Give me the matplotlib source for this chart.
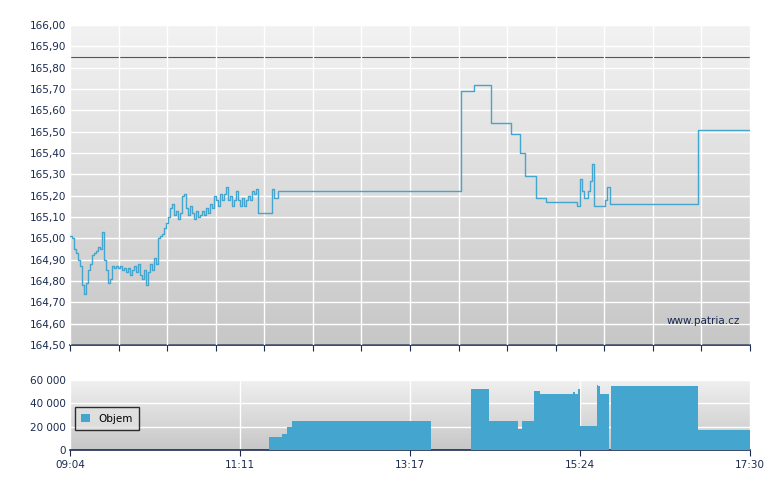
import matplotlib.pyplot as plt
import numpy as np
from matplotlib.ticker import FuncFormatter

# session 09:04 -> 17:30, 506 minutes; readings below are in minutes after 09:04
SESSION = 506
ref_price = 165.85

price_t = [0, 1.5, 3, 4.5, 6, 7.4, 9, 10.4, 12, 13.4, 14.9, 16.4, 17.9, 19.3, 20.8, 22.3, 23.8, 25.3,
           26.8, 28.3, 29.8, 31.3, 32.7, 34.2, 35.7, 37.2, 38.7, 40.2, 41.7, 43.2, 44.6, 46.1, 47.6,
           49.1, 50.6, 52.1, 53.6, 55.1, 56.5, 58, 59.5, 61, 62.5, 64, 65.5, 67, 68.5, 69.9, 71.4,
           72.9, 74.4, 75.9, 77.4, 78.9, 80.4, 81.8, 83.3, 84.8, 86.3, 87.8, 89.3, 90.8, 92.3, 93.7,
           95.2, 96.7, 98.2, 99.7, 101.2, 102.7, 104.2, 105.6, 107.1, 108.6, 110.1, 111.6, 113.1,
           114.6, 116.1, 117.5, 119, 120.5, 122, 123.5, 125, 126.5, 128, 129.4, 130.9, 132.4, 133.9,
           135.4, 136.9, 138.4, 139.9, 148.8, 150.3, 151.8, 153.3, 154.8, 290.2, 291, 299.9, 300.6,
           312.5, 313.3, 327.4, 328.1, 334, 334.8, 337.8, 338.5, 345.9, 346.7, 353.4, 354.1, 375.7,
           377.2, 379.4, 380.9, 382.4, 385.4, 386.9, 388.4, 389.8, 396.5, 398, 399.5, 401, 401.7,
           466.5, 467.2, 506]
price_v = [165.01, 165.00, 164.95, 164.93, 164.90, 164.87, 164.78, 164.74, 164.79, 164.85, 164.88,
           164.92, 164.93, 164.94, 164.96, 164.95, 165.03, 164.90, 164.85, 164.79, 164.81, 164.87,
           164.86, 164.87, 164.86, 164.87, 164.85, 164.86, 164.84, 164.86, 164.83,
           164.85, 164.87, 164.84, 164.88, 164.83, 164.81, 164.85, 164.78, 164.84, 164.88, 164.85,
           164.91, 164.88, 165.00, 165.01, 165.02, 165.05, 165.07, 165.10, 165.14, 165.16, 165.11,
           165.13, 165.09, 165.12, 165.20, 165.21, 165.14, 165.11, 165.15, 165.12, 165.09, 165.13,
           165.10, 165.11, 165.13, 165.11, 165.14, 165.12, 165.16, 165.14, 165.20, 165.18, 165.15,
           165.21, 165.18, 165.21, 165.24, 165.18, 165.20, 165.15, 165.18, 165.22, 165.18, 165.15,
           165.19, 165.15, 165.18, 165.20, 165.18, 165.22, 165.21, 165.23, 165.12, 165.12, 165.23,
           165.19, 165.19, 165.22, 165.22, 165.69, 165.69, 165.72, 165.72, 165.54, 165.54, 165.49,
           165.49, 165.40, 165.40, 165.29, 165.29, 165.19, 165.19, 165.17, 165.17, 165.15, 165.28,
           165.22, 165.19, 165.22, 165.27, 165.35, 165.15, 165.15, 165.18, 165.24, 165.24, 165.16,
           165.16, 165.51, 165.51]

vol_t = [0, 148.1, 157.8, 161.5, 165.2, 268.6, 298.4, 311.8, 333.3, 336.3, 345.2, 349.7, 374.3,
         375.8, 378, 379.4, 392.1, 394.3, 400.9, 402.3, 467.2, 506]
vol_v = [0, 11000, 14000, 20000, 25000, 0, 52000, 25000, 18000, 25000, 51000, 48000, 50000, 48000,
         52000, 21000, 55000, 48000, 0, 55000, 17000, 17000]

spike_t = [392.8]
spike_v = [56000]

line_color = '#44a6cf'
grid_color = 'white'
axis_color = '#1a2a50'

fig = plt.figure(figsize=(7.8, 4.9), dpi=100)
ax = fig.add_axes([70 / 780, 1 - 345 / 490, 680 / 780, 320 / 490])
axv = fig.add_axes([70 / 780, 1 - 450 / 490, 680 / 780, 70 / 490])


def gradient(a, top, bottom):
    g = np.linspace(0, 1, 256).reshape(-1, 1)
    c0 = np.array(top)
    c1 = np.array(bottom)
    img = c0 + (c1 - c0) * g[:, :, None]
    img = np.repeat(img, 2, axis=1)
    a.imshow(img, extent=[0, 1, 0, 1], transform=a.transAxes, aspect='auto', zorder=0)


gradient(ax, (0.95, 0.95, 0.95), (0.78, 0.78, 0.78))
gradient(axv, (0.94, 0.94, 0.94), (0.78, 0.78, 0.78))

# price panel
ax.set_xlim(0, SESSION)
ax.set_ylim(164.5, 166.0)
yt = np.arange(164.5, 166.001, 0.1)
ax.set_yticks(yt)
ax.yaxis.set_major_formatter(FuncFormatter(lambda v, p: f"{v:.2f}".replace('.', ',')))
xt = np.linspace(0, SESSION, 15)
ax.set_xticks(xt)
ax.set_xticklabels([])
ax.grid(True, color=grid_color, lw=1, zorder=1)
ax.set_axisbelow(False)
ax.axhline(ref_price, color='#555555', lw=0.8, zorder=2)
ax.plot(price_t, price_v, drawstyle='steps-post', color=line_color, lw=1, zorder=3)
ax.text(0.985, 0.06, 'www.patria.cz', transform=ax.transAxes, ha='right', va='bottom',
        fontsize=7.5, color='#1a2a50')

# volume panel
axv.set_xlim(0, SESSION)
axv.set_ylim(0, 60000)
axv.set_yticks([0, 20000, 40000, 60000])
axv.yaxis.set_major_formatter(FuncFormatter(lambda v, p: f"{int(v):,}".replace(',', ' ')))
lt = np.linspace(0, SESSION, 5)
axv.set_xticks(lt)
axv.set_xticklabels(['09:04', '11:11', '13:17', '15:24', '17:30'])
axv.grid(True, color=grid_color, lw=1, zorder=1)
axv.fill_between(vol_t, vol_v, step='post', color=line_color, lw=0, zorder=3, label='Objem')
axv.bar(spike_t, spike_v, width=0.8, color=line_color, zorder=3)
leg = axv.legend(loc='center left', bbox_to_anchor=(0.0, 0.45), fontsize=7.5, frameon=True,
                 fancybox=False, handlelength=0.8, handleheight=0.8, borderpad=0.6)
leg.get_frame().set_edgecolor('black')
leg.get_frame().set_facecolor((0.88, 0.88, 0.88))
leg.legend_handles[0].set_edgecolor('black')

for a in (ax, axv):
    for s in a.spines.values():
        s.set_visible(False)
    a.spines['bottom'].set_visible(True)
    a.spines['bottom'].set_color(axis_color)
    a.spines['bottom'].set_linewidth(1.2)
    a.tick_params(axis='both', colors=axis_color, labelsize=7.5, length=4, width=0.8)
    a.tick_params(axis='y', length=0, pad=3)

fig.savefig('out.png', dpi=100)
